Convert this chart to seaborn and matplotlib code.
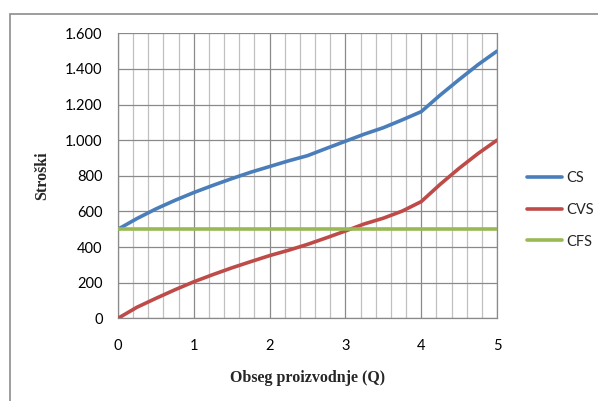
import matplotlib
matplotlib.use("Agg")
import matplotlib.pyplot as plt
import seaborn as sns
import pandas as pd
from matplotlib.ticker import MultipleLocator, FuncFormatter
from matplotlib.patches import Rectangle
from matplotlib.lines import Line2D

# Data
q = [0, 0.25, 0.5, 0.75, 1, 1.25, 1.5, 1.75, 2, 2.25, 2.5,
     2.75, 3, 3.25, 3.5, 3.75, 4, 4.25, 4.5, 4.75, 5]
cs = [500, 560, 614, 662, 706, 746, 784, 820, 852, 884, 913,
      954, 994, 1034, 1070, 1114, 1160, 1253, 1340, 1424, 1500]
cvs = [0, 62, 112, 160, 205, 245, 283, 318, 352, 382, 415,
       452, 490, 530, 562, 602, 655, 752, 842, 925, 1000]
cfs = [500] * 21
series_names = ["CS", "CVS", "CFS"]
colors = ["#4A7EBB", "#BE4B48", "#98B954"]

df = pd.DataFrame({"Q": q * 3,
                   "val": cs + cvs + cfs,
                   "serija": [s for s in series_names for _ in q]})

sns.set_theme(style="white")
plt.rcParams['font.family'] = ['Lato', 'DejaVu Sans']

W, H = 598, 401
fig = plt.figure(figsize=(W / 100, H / 100), dpi=100)
ax = fig.add_axes([118 / W, 1 - 318.3 / H, (497 - 118) / W, (318.3 - 33.3) / H])

# Outer chart border
fig.patches.append(Rectangle((9.5 / W, -0.05), 1.2, 1 - 14 / H + 0.05,
                             transform=fig.transFigure, fill=False,
                             edgecolor="#8c8c8c", lw=1.2, clip_on=False, zorder=0))

sns.lineplot(data=df, x="Q", y="val", hue="serija", palette=colors,
             hue_order=series_names, linewidth=2.6, ax=ax, legend=False, zorder=5)
for ln in ax.lines:
    ln.set_solid_joinstyle("round")
    ln.set_solid_capstyle("round")

ax.set_xlim(0, 5)
ax.set_ylim(0, 1600)
ax.xaxis.set_major_locator(MultipleLocator(1))
ax.xaxis.set_minor_locator(MultipleLocator(0.2))
ax.yaxis.set_major_locator(MultipleLocator(200))
ax.yaxis.set_major_formatter(FuncFormatter(lambda v, p: f"{int(v):,}".replace(",", ".")))

ax.grid(which="major", axis="both", color="#8a8a8a", lw=0.9)
ax.grid(which="minor", axis="x", color="#c0c0c0", lw=0.9)
ax.set_axisbelow(True)

ax.spines["top"].set_visible(False)
for s in ["left", "bottom", "right"]:
    ax.spines[s].set_color("#8a8a8a")
    ax.spines[s].set_linewidth(0.9)

ax.tick_params(axis="both", which="major", direction="out", length=5,
               color="#8a8a8a", width=0.9, labelsize=10.5, labelcolor="black")
ax.tick_params(axis="x", which="major", pad=10)
ax.tick_params(axis="y", which="major", pad=6)
ax.tick_params(axis="x", which="minor", length=0)

ax.set_xlabel("Obseg proizvodnje (Q)", family="Liberation Serif", weight="bold",
              fontsize=11.5, labelpad=12)
ax.set_ylabel("Stroški", family="Liberation Serif", weight="bold",
              fontsize=11.5, labelpad=11)

handles = [Line2D([], [], color=c, lw=2.6) for c in colors]
fig.legend(handles, series_names, loc="center left",
           bbox_to_anchor=(520 / W, 1 - 210 / H), frameon=False,
           fontsize=10.5, handlelength=2.4, handletextpad=0.3,
           labelspacing=1.2, borderpad=0)

fig.savefig("out.png", dpi=100)
